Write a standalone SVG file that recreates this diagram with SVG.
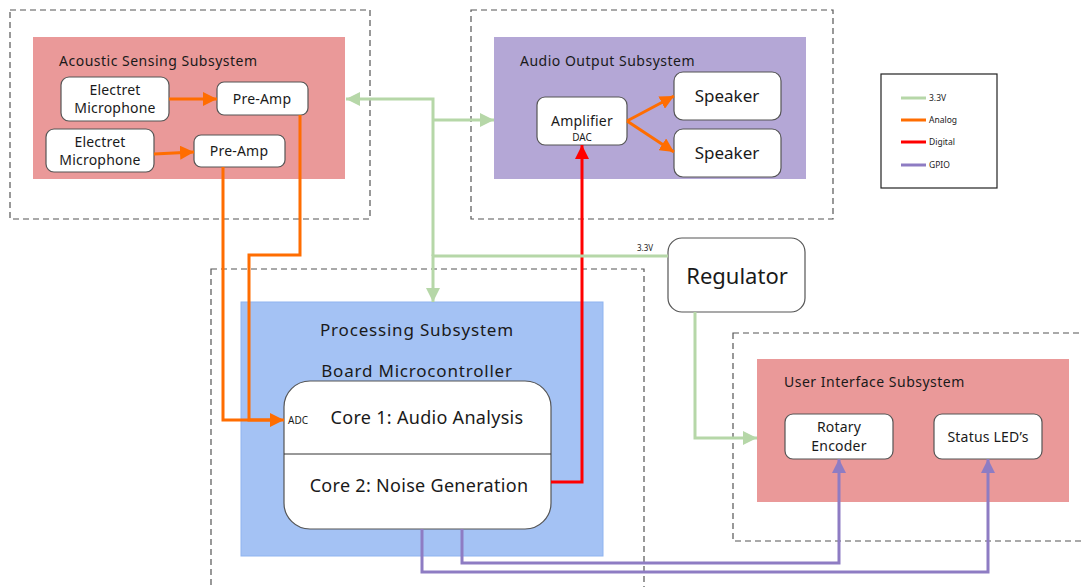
<svg xmlns="http://www.w3.org/2000/svg" width="1083" height="587" viewBox="0 0 1083 587">
<style>
text{font-family:"Noto Sans","Liberation Sans",sans-serif;fill:#1a1a1a}
.dash{fill:none;stroke:#555;stroke-width:1.2;stroke-dasharray:6 4}
.node{fill:#fff;stroke:#555;stroke-width:1.2}
.t{font-size:14px;text-anchor:middle;letter-spacing:0.2px}
.title{font-size:14px;letter-spacing:0.5px}
.big{font-size:17px;text-anchor:middle;letter-spacing:0.8px}
.g{fill:none;stroke:#b6d7a8;stroke-width:3}
.o{fill:none;stroke:#ff6d01;stroke-width:3}
.r{fill:none;stroke:#ff0000;stroke-width:3}
.p{fill:none;stroke:#8e7cc3;stroke-width:3}
</style>
<defs>
<marker id="ag" markerUnits="userSpaceOnUse" markerWidth="16" markerHeight="14" refX="14" refY="7" orient="auto"><path d="M0,0 L14,7 L0,14 Z" fill="#b6d7a8"/></marker>
<marker id="ao" markerUnits="userSpaceOnUse" markerWidth="16" markerHeight="14" refX="14" refY="7" orient="auto"><path d="M0,0 L14,7 L0,14 Z" fill="#ff6d01"/></marker>
<marker id="ar" markerUnits="userSpaceOnUse" markerWidth="16" markerHeight="14" refX="14" refY="7" orient="auto"><path d="M0,0 L14,7 L0,14 Z" fill="#ff0000"/></marker>
<marker id="ap" markerUnits="userSpaceOnUse" markerWidth="16" markerHeight="14" refX="14" refY="7" orient="auto"><path d="M0,0 L14,7 L0,14 Z" fill="#8e7cc3"/></marker>
</defs>
<rect width="1083" height="587" fill="#fff"/>

<g id="acoustic">
<rect class="dash" x="10" y="10" width="360" height="209"/>
<rect x="33" y="37" width="312" height="142" fill="#ea9999"/>
<text class="title" x="59" y="66">Acoustic Sensing Subsystem</text>
</g>
<g id="mic1"><rect class="node" x="61" y="77" width="108" height="44" rx="8"/><text class="t" x="115" y="95">Electret</text><text class="t" x="115" y="113">Microphone</text></g>
<g id="preamp1"><rect class="node" x="217" y="82" width="91" height="33" rx="7"/><text class="t" x="262" y="104">Pre-Amp</text></g>
<g id="mic2"><rect class="node" x="46" y="129" width="108" height="43" rx="8"/><text class="t" x="100" y="147">Electret</text><text class="t" x="100" y="165">Microphone</text></g>
<g id="preamp2"><rect class="node" x="194" y="135" width="91" height="32" rx="7"/><text class="t" x="239" y="156">Pre-Amp</text></g>

<g id="audio-output">
<rect class="dash" x="471" y="10" width="362" height="209"/>
<rect x="494" y="37" width="312" height="142" fill="#b4a7d6"/>
<text class="title" x="520" y="66">Audio Output Subsystem</text>
</g>
<g id="amplifier"><rect class="node" x="537" y="97" width="90" height="48" rx="8"/><text class="t" x="582" y="126">Amplifier</text><text x="582" y="141" font-size="10" text-anchor="middle">DAC</text></g>
<g id="speaker1"><rect class="node" x="674" y="72" width="107" height="48" rx="9"/><text x="727" y="102" font-size="17" text-anchor="middle">Speaker</text></g>
<g id="speaker2"><rect class="node" x="674" y="129" width="107" height="48" rx="9"/><text x="727" y="159" font-size="17" text-anchor="middle">Speaker</text></g>

<g id="legend">
<rect x="881" y="74" width="116" height="114" fill="#fff" stroke="#222" stroke-width="1.2"/>
<line x1="901" y1="98" x2="926" y2="98" stroke="#b6d7a8" stroke-width="3"/>
<line x1="901" y1="120" x2="926" y2="120" stroke="#ff6d01" stroke-width="3"/>
<line x1="901" y1="142" x2="926" y2="142" stroke="#ff0000" stroke-width="3"/>
<line x1="901" y1="165" x2="926" y2="165" stroke="#8e7cc3" stroke-width="3"/>
<text x="929" y="101" font-size="8.5">3.3V</text>
<text x="929" y="123" font-size="8.5">Analog</text>
<text x="929" y="145" font-size="8.5">Digital</text>
<text x="929" y="168" font-size="8.5">GPIO</text>
</g>

<g id="processing">
<rect class="dash" x="211" y="269" width="433" height="330"/>
<rect x="241" y="302" width="362" height="254" fill="#a4c2f4" stroke="#8fb4f0" stroke-width="1"/>
<text class="big" x="417" y="336">Processing Subsystem</text>
<text class="big" x="417" y="377">Board Microcontroller</text>
</g>
<g id="microcontroller">
<rect class="node" x="284" y="381" width="267" height="148" rx="26"/>
<line x1="284" y1="454" x2="551" y2="454" stroke="#333" stroke-width="1"/>
<text x="288" y="424" font-size="10">ADC</text>
<text x="427" y="424" font-size="18" text-anchor="middle" letter-spacing="0.3">Core 1: Audio Analysis</text>
<text x="419" y="492" font-size="18" text-anchor="middle" letter-spacing="0.3">Core 2: Noise Generation</text>
</g>

<g id="regulator"><rect class="node" x="668" y="238" width="137" height="74" rx="14"/><text x="737" y="284" font-size="22" text-anchor="middle">Regulator</text></g>

<g id="user-interface">
<rect class="dash" x="733" y="333" width="360" height="208"/>
<rect x="757" y="359" width="312" height="143" fill="#ea9999"/>
<text class="title" x="784" y="387">User Interface Subsystem</text>
</g>
<g id="rotary"><rect class="node" x="785" y="414" width="108" height="45" rx="8"/><text class="t" x="839" y="432">Rotary</text><text class="t" x="839" y="451">Encoder</text></g>
<g id="leds"><rect class="node" x="934" y="414" width="108" height="45" rx="8"/><text class="t" x="988" y="442">Status LED’s</text></g>

<g id="connectors">
<path class="o" d="M169,99 H217" marker-end="url(#ao)"/>
<path class="o" d="M154,154 L194,152" marker-end="url(#ao)"/>
<path class="o" d="M223,167 V420 H284" marker-end="url(#ao)"/>
<path class="o" d="M300,115 V255 H249 V420 H270"/>
<path class="o" d="M627,121 L674,96" marker-end="url(#ao)"/>
<path class="o" d="M627,121 L674,152" marker-end="url(#ao)"/>
<path class="r" d="M551,482 H582 V145" marker-end="url(#ar)"/>
<path class="g" d="M668,256 H433 V302" marker-end="url(#ag)"/>
<path class="g" d="M433,256 V99 H346" marker-end="url(#ag)"/>
<path class="g" d="M433,120 H494" marker-end="url(#ag)"/>
<path class="g" d="M695,312 V438 H757" marker-end="url(#ag)"/>
<text x="637" y="251" font-size="8">3.3V</text>
<path class="p" d="M422,529 V572 H988 V459" marker-end="url(#ap)"/>
<path class="p" d="M462,529 V563 H839 V459" marker-end="url(#ap)"/>
</g>
</svg>
